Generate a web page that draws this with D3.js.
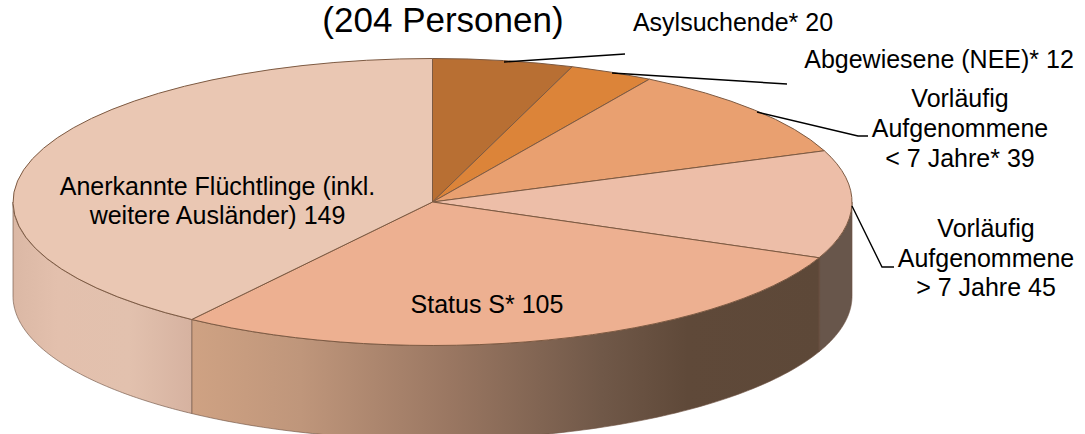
<!DOCTYPE html>
<html>
<head>
<meta charset="utf-8">
<script src="https://cdnjs.cloudflare.com/ajax/libs/d3/7.8.5/d3.min.js"></script>
<style>
html,body{margin:0;padding:0;background:#fff;overflow:hidden}
svg{display:block}
text{font-family:"Liberation Sans",Arial,sans-serif;fill:#000}
</style>
</head>
<body>
<svg id="c" width="1085" height="434"></svg>
<script>
const categories = ["Asylsuchende*","Abgewiesene (NEE)*","Vorläufig Aufgenommene < 7 Jahre*","Vorläufig Aufgenommene > 7 Jahre","Status S*","Anerkannte Flüchtlinge (inkl. weitere Ausländer)"];
const values = [20,12,39,45,105,149];
const topColors = ["#b86f33","#dc8439","#e9a070","#edbea8","#edb091","#eac7b3"];
const title = "(204 Personen)";

const svg = d3.select("#c");
const cx = 432.5, cy = 202, rx = 419.5, ry = 143.5, depth = 94;

const pie = d3.pie().sort(null).value(d => d).startAngle(0).endAngle(2*Math.PI);
const arcs = pie(values);
const arcGen = d3.arc().innerRadius(0).outerRadius(rx);

const defs = svg.append("defs");
const wallGrad = defs.append("linearGradient").attr("id","wallFront")
  .attr("gradientUnits","userSpaceOnUse").attr("x1",191).attr("x2",853).attr("y1",0).attr("y2",0);
[[0,"#cfa283"],[0.165,"#bf967b"],[0.39,"#9a7762"],[0.62,"#705848"],[0.75,"#5f4939"],[0.95,"#5d4838"],[0.951,"#68564b"],[1,"#68564b"]]
  .forEach(s => wallGrad.append("stop").attr("offset",s[0]).attr("stop-color",s[1]));
const leftGrad = defs.append("linearGradient").attr("id","wallLeft")
  .attr("gradientUnits","userSpaceOnUse").attr("x1",13).attr("x2",192).attr("y1",0).attr("y2",0);
[[0,"#dbb8a5"],[0.25,"#e3c0ad"],[0.65,"#e2c1ae"],[1,"#d6b2a0"]]
  .forEach(s => leftGrad.append("stop").attr("offset",s[0]).attr("stop-color",s[1]));

const pt = (a, dy) => [cx + rx*Math.sin(a), cy - ry*Math.cos(a) + dy];
const line = d3.line();
const HALF = Math.PI/2, TH = 3*Math.PI/2;

const wallData = arcs.map((d,i) => ({
  a0: Math.max(d.startAngle, HALF), a1: Math.min(d.endAngle, TH), i
})).filter(d => d.a1 > d.a0);

svg.append("g").selectAll("path").data(wallData).join("path")
  .attr("d", d => {
    const as = d3.range(0, 101).map(k => d.a0 + (d.a1-d.a0)*k/100);
    return line(as.map(a => pt(a,0)).concat(as.slice().reverse().map(a => pt(a,depth)))) + "Z";
  })
  .attr("fill", d => d.i === 5 ? "url(#wallLeft)" : "url(#wallFront)")
  .attr("stroke", "#6f5443").attr("stroke-width", 0.8).attr("stroke-opacity", 0.8);

svg.append("g").attr("transform",`translate(${cx},${cy}) scale(1,${ry/rx})`)
  .selectAll("path").data(arcs).join("path")
  .attr("d", arcGen)
  .attr("fill", (d,i) => topColors[i])
  .attr("stroke", "#7d5a42").attr("stroke-width", 1)
  .attr("vector-effect","non-scaling-stroke");

const leaders = [
  [[504,62],[625,54]],
  [[612,73],[787,84]],
  [[757,112],[858,136],[868,136]],
  [[852,206],[882,267],[894,267]]
];
svg.append("g").selectAll("path").data(leaders).join("path")
  .attr("d", d => line(d)).attr("fill","none").attr("stroke","#000").attr("stroke-width",1.4);

const labels = [
  {lines:[`Asylsuchende* ${values[0]}`], x:733, y:[31]},
  {lines:[`Abgewiesene (NEE)* ${values[1]}`], x:939, y:[68]},
  {lines:["Vorläufig","Aufgenommene",`< 7 Jahre* ${values[2]}`], x:960, y:[107,137,167]},
  {lines:["Vorläufig","Aufgenommene",`> 7 Jahre ${values[3]}`], x:986, y:[237,267,296]},
  {lines:[`Status S* ${values[4]}`], x:487, y:[313]},
  {lines:["Anerkannte Flüchtlinge (inkl.",`weitere Ausländer) ${values[5]}`], x:217.5, y:[195,224]}
];
labels.forEach(l => {
  const t = svg.append("text").attr("text-anchor","middle").attr("font-size",25);
  l.lines.forEach((s,i) => t.append("tspan").attr("x",l.x).attr("y",l.y[i]).text(s));
});
svg.append("text").attr("x",443).attr("y",32).attr("text-anchor","middle").attr("font-size",35).text(title);
</script>
</body>
</html>
